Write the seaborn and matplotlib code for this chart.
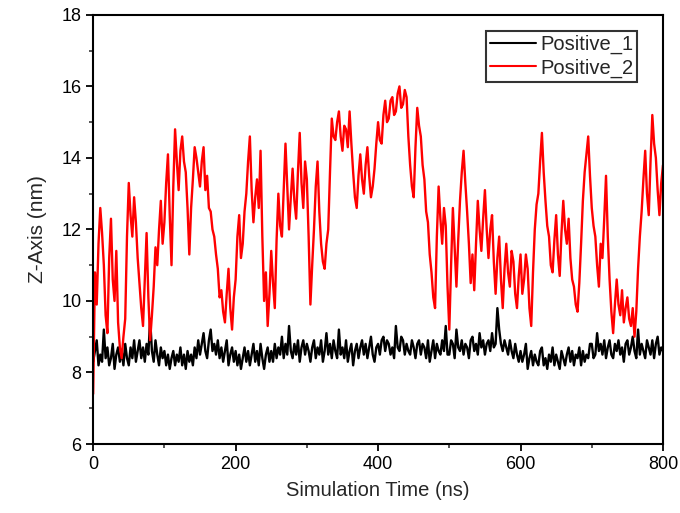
import numpy as np
import pandas as pd
import matplotlib
matplotlib.use("Agg")
import matplotlib.pyplot as plt
import seaborn as sns
from matplotlib.ticker import MultipleLocator

# time axis, 2.5 ns steps (0 .. 800 ns)
time_ns = [i * 2.5 for i in range(321)]

# Positive_1 (black) - z position, one row = 50 ns
positive_1 = [
    8.3, 8.6, 8.9, 8.2, 8.5, 8.3, 9.2, 8.4, 8.7, 8.2, 8.4, 8.8, 8.1, 8.5, 8.7, 8.3, 8.6, 8.2, 8.8, 8.4,
    8.2, 8.7, 8.4, 8.9, 8.3, 8.6, 8.9, 8.4, 8.7, 8.3, 8.8, 8.5, 9.5, 8.6, 8.3, 8.9, 8.5, 8.2, 8.7, 8.4,
    8.6, 8.2, 8.5, 8.1, 8.4, 8.6, 8.2, 8.5, 8.3, 8.7, 8.2, 8.5, 8.1, 8.6, 8.3, 8.5, 8.2, 8.7, 8.4, 8.9,
    8.5, 8.8, 9.1, 8.6, 8.4, 8.9, 9.2, 8.6, 8.8, 8.5, 8.9, 8.4, 8.7, 8.3, 8.6, 8.9, 8.2, 8.5, 8.7, 8.3,
    8.6, 8.2, 8.5, 8.1, 8.4, 8.7, 8.3, 8.6, 8.2, 8.5, 8.8, 8.3, 8.6, 8.2, 8.8, 8.4, 8.1, 8.5, 8.7, 8.3,
    8.6, 8.3, 8.8, 8.4, 8.7, 8.5, 9.0, 8.4, 8.8, 8.5, 9.3, 8.6, 8.4, 8.8, 8.5, 8.9, 8.3, 8.7, 8.9, 8.5,
    8.8, 8.6, 8.3, 8.7, 8.9, 8.4, 8.7, 8.5, 8.9, 8.3, 8.6, 9.1, 8.5, 8.8, 8.4, 8.9, 8.6, 8.4, 9.2, 8.5,
    8.7, 8.4, 8.9, 8.3, 8.6, 8.8, 8.2, 8.6, 8.8, 8.4, 8.7, 8.9, 8.5, 8.8, 8.4, 8.7, 9.0, 8.5, 8.3, 8.7,
    8.8, 8.5, 8.9, 9.0, 8.6, 8.9, 8.8, 8.5, 8.7, 8.4, 9.3, 8.7, 8.6, 9.0, 8.9, 8.5, 8.8, 8.6, 8.5, 8.9,
    8.7, 8.4, 8.8, 8.9, 8.5, 8.8, 8.7, 8.4, 8.9, 8.3, 8.6, 8.9, 8.4, 8.8, 8.6, 8.5, 8.9, 8.6, 9.3, 8.5,
    8.5, 8.9, 8.8, 8.4, 9.2, 8.7, 8.6, 8.9, 8.5, 8.8, 8.7, 8.4, 8.9, 9.0, 8.6, 8.8, 8.5, 9.1, 8.7, 8.9,
    8.5, 8.8, 8.9, 8.6, 9.1, 8.7, 8.8, 9.8, 9.2, 8.8, 8.6, 8.9, 8.7, 8.5, 8.9, 8.6, 8.4, 8.8, 8.5, 8.3,
    8.6, 8.3, 8.5, 8.8, 8.1, 8.4, 8.6, 8.2, 8.5, 8.3, 8.2, 8.6, 8.7, 8.2, 8.4, 8.1, 8.5, 8.3, 8.7, 8.2,
    8.5, 8.3, 8.1, 8.6, 8.4, 8.2, 8.5, 8.7, 8.3, 8.6, 8.2, 8.5, 8.4, 8.7, 8.2, 8.6, 8.3, 8.5, 8.4, 8.8,
    8.8, 8.4, 8.5, 9.1, 8.6, 8.8, 8.5, 8.9, 8.4, 8.7, 8.9, 8.5, 8.4, 8.8, 8.6, 8.9, 8.5, 8.7, 8.3, 8.8,
    8.9, 8.5, 8.7, 9.0, 8.6, 8.4, 9.2, 8.5, 8.8, 8.6, 8.4, 8.9, 8.7, 8.5, 8.9, 8.4, 8.8, 9.0, 8.5, 8.7,
    8.6,
]

# Positive_2 (red)
positive_2 = [
    7.4, 10.8, 9.9, 11.6, 12.6, 11.9, 11.0, 9.6, 9.1, 11.2, 12.3, 10.6, 10.0, 11.4, 9.4, 8.7, 8.4, 9.0, 9.5, 11.8,
    13.3, 12.4, 11.8, 12.9, 12.2, 11.2, 10.5, 9.8, 9.3, 10.6, 11.9, 10.1, 8.9, 9.6, 10.4, 11.5, 11.0, 12.0, 12.8, 11.6,
    12.2, 13.3, 14.1, 12.4, 11.0, 13.2, 14.8, 13.9, 13.1, 14.2, 14.6, 13.9, 13.6, 12.6, 11.3, 12.6, 13.4, 14.3, 14.0, 13.6,
    13.2, 13.9, 14.3, 13.1, 13.5, 12.6, 12.5, 12.0, 11.8, 11.3, 10.9, 10.1, 10.3, 9.7, 9.4, 10.2, 10.9, 9.8, 9.2, 10.1,
    10.6, 11.8, 12.4, 11.2, 11.6, 12.5, 13.0, 13.9, 14.6, 13.1, 12.2, 12.9, 13.4, 12.6, 14.2, 11.8, 10.0, 10.8, 9.3, 10.2,
    11.4, 10.5, 9.8, 11.7, 13.0, 12.1, 11.8, 13.1, 14.4, 13.2, 12.0, 12.9, 13.7, 12.8, 12.3, 13.6, 14.7, 13.3, 12.6, 13.9,
    13.4, 11.8, 9.9, 11.0, 12.0, 13.2, 13.9, 12.5, 11.6, 11.1, 10.9, 11.6, 12.0, 13.6, 15.1, 14.6, 14.5, 15.0, 15.3, 14.6,
    14.2, 14.9, 14.8, 14.3, 15.3, 14.4, 13.6, 12.9, 12.6, 13.5, 14.1, 13.4, 13.0, 13.8, 14.3, 13.5, 12.9, 13.2, 13.7, 14.4,
    15.0, 14.5, 14.4, 15.2, 15.6, 15.0, 15.1, 15.6, 15.7, 15.2, 15.3, 15.8, 16.0, 15.4, 15.5, 15.9, 15.7, 14.6, 13.8, 13.2,
    12.9, 14.3, 15.4, 14.9, 14.6, 13.8, 13.4, 12.5, 12.2, 11.3, 10.8, 10.1, 9.8, 11.8, 13.2, 12.3, 11.6, 12.6, 12.1, 10.4,
    9.2, 11.0, 12.6, 11.5, 10.4, 11.7, 12.8, 13.6, 14.2, 13.3, 12.5, 11.6, 10.5, 11.3, 10.3, 11.6, 12.8, 12.0, 11.4, 12.3,
    13.1, 12.0, 11.2, 12.0, 12.4, 11.1, 10.2, 11.2, 11.8, 10.6, 9.8, 10.9, 11.6, 10.8, 10.4, 11.4, 11.1, 10.2, 9.8, 10.7,
    11.3, 10.2, 10.6, 11.3, 10.9, 9.8, 9.3, 10.8, 12.0, 12.7, 13.0, 13.9, 14.7, 13.6, 12.8, 12.1, 11.8, 11.0, 10.8, 11.7,
    12.4, 11.3, 10.7, 11.9, 12.8, 12.0, 11.6, 12.3, 11.2, 10.6, 10.4, 9.9, 9.7, 10.5, 11.6, 12.8, 13.6, 14.1, 14.6, 13.5,
    12.6, 12.1, 11.8, 11.0, 10.4, 11.6, 11.2, 12.3, 13.5, 11.8, 10.6, 9.7, 9.1, 9.9, 10.6, 9.9, 9.6, 10.3, 9.4, 9.8,
    10.1, 9.5, 9.3, 9.8, 9.0, 9.7, 10.9, 11.8, 12.5, 13.4, 14.2, 13.0, 12.4, 13.9, 15.2, 14.4, 14.0, 13.1, 12.4, 13.3,
    13.8,
]

df = pd.DataFrame({
    "time": time_ns * 2,
    "z": positive_1 + positive_2,
    "series": ["Positive_1"] * len(time_ns) + ["Positive_2"] * len(time_ns),
})

sns.set_style("ticks")
plt.rcParams["font.family"] = ["Liberation Sans", "DejaVu Sans"]

fig = plt.figure(figsize=(6.8, 5.13), dpi=100)
ax = fig.add_axes([0.137, 0.1345, 0.838, 0.8365])

sns.lineplot(data=df, x="time", y="z", hue="series",
             palette={"Positive_1": "black", "Positive_2": "red"},
             linewidth=1.7, ax=ax)

ax.set_xlim(0, 800)
ax.set_ylim(6, 18)
ax.xaxis.set_major_locator(MultipleLocator(200))
ax.xaxis.set_minor_locator(MultipleLocator(100))
ax.yaxis.set_major_locator(MultipleLocator(2))
ax.yaxis.set_minor_locator(MultipleLocator(1))
ax.tick_params(which="major", direction="out", length=5, width=1.3, labelsize=13, colors="black")
ax.tick_params(which="minor", direction="out", length=3, width=1.1)
for s in ax.spines.values():
    s.set_linewidth(1.5)
    s.set_color("black")

ax.set_xlabel("Simulation Time (ns)", fontsize=14.5, labelpad=6)
ax.set_ylabel("Z-Axis (nm)", fontsize=15, labelpad=10)

leg = ax.legend(loc="upper right", bbox_to_anchor=(0.955, 0.962), fontsize=14.5,
                frameon=True, fancybox=False, edgecolor="black",
                handlelength=2.3, handletextpad=0.2, labelspacing=0.2,
                borderpad=0.2, borderaxespad=0)
leg.get_frame().set_linewidth(1.5)
for line in leg.get_lines():
    line.set_linewidth(1.5)
leg.set_title(None)

fig.savefig("out.png", dpi=100, facecolor="white")
